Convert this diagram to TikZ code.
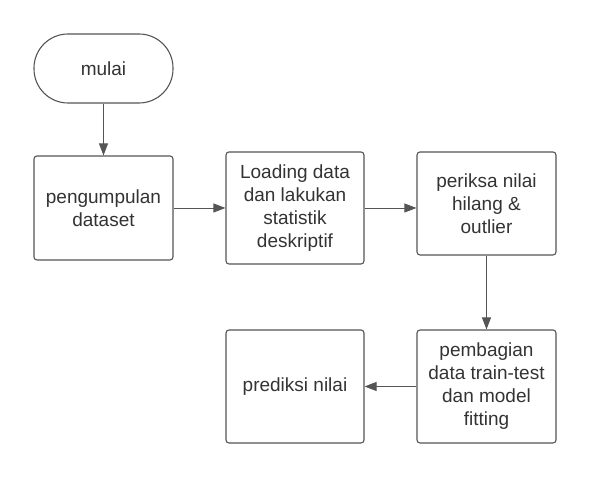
\documentclass[tikz,border=0pt]{standalone}
\usepackage{fontspec}
\setmainfont{Liberation Sans}
\usetikzlibrary{arrows.meta}
\definecolor{linegray}{HTML}{555555}
\definecolor{textgray}{HTML}{333333}
\begin{document}
\begin{tikzpicture}[
    x=1pt, y=1pt,
    box/.style={draw=linegray, line width=1.1pt, rounded corners=3pt, align=center,
      text=textgray, font=\fontsize{19}{23}\selectfont, inner sep=0pt},
    terminal/.style={box, rounded corners=34pt},
    flow/.style={draw=linegray, line width=0.9pt, -{Triangle[length=12pt,width=9pt]}}
    ]
    \useasboundingbox (0,0) rectangle (590,478);
    \node[terminal, minimum width=139, minimum height=69] (mulai) at (103.5,409.5) {mulai};
    \node[box, minimum width=139, minimum height=104] (kumpul) at (103.5,270) {pengumpulan\\dataset};
    \node[box, minimum width=138, minimum height=112] (load) at (295,270) {Loading data\\dan lakukan\\statistik\\deskriptif};
    \node[box, minimum width=139, minimum height=103] (periksa) at (486.5,274.5) {periksa nilai\\hilang \&\\outlier};
    \node[box, minimum width=139, minimum height=113] (bagi) at (486.5,91.5) {pembagian\\data train-test\\dan model\\fitting};
    \node[box, minimum width=138, minimum height=113] (prediksi) at (295,91.5) {prediksi nilai};
    \draw[flow] (mulai) -- (kumpul);
    \draw[flow] (kumpul) -- (load);
    \draw[flow] (load.east) -- (load.east -| periksa.west);
    \draw[flow] (periksa) -- (bagi);
    \draw[flow] (bagi) -- (prediksi);
\end{tikzpicture}
\end{document}
